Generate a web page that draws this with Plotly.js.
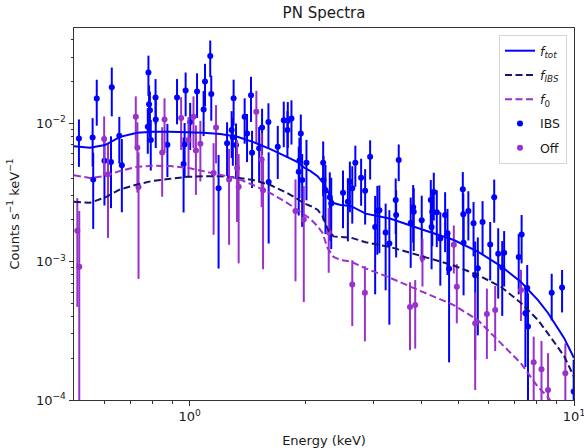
<!DOCTYPE html>
<html><head><meta charset="utf-8">
<script src="https://cdn.plot.ly/plotly-3.0.1.min.js"></script>
<style>html,body{margin:0;padding:0;background:#fff}#chart{width:584px;height:448px}</style>
</head><body><div id="chart"></div>
<script>
// IBS spectrum data points (energy keV, counts s^-1 keV^-1, 1-sigma error)
const ibsE = [0.515,0.559,0.561,0.573,0.600,0.624,0.627,0.656,0.666,0.778,0.781,0.784,0.788,0.792,0.815,0.816,0.875,0.927,0.964,0.970,0.976,1.003,1.045,1.087,1.096,1.131,1.138,1.189,1.251,1.286,1.295,1.301,1.32,1.39,1.41,1.444,1.453,1.516,1.543,1.603,1.605,1.695,1.757,1.796,1.80,1.84,1.922,1.93,1.946,1.962,2.013,2.225,2.23,2.256,2.315,2.335,2.506,2.58,2.611,2.649,2.698,2.793,2.861,2.948,3.038,3.078,3.116,3.235,3.308,3.436,3.445,3.499,3.759,3.815,3.828,4.016,4.24,4.26,4.278,4.317,4.395,4.489,4.62,4.686,4.731,5.137,5.152,5.16,5.31,5.478,5.532,5.62,5.782,6.053,6.20,6.35,6.505,6.58,7.18,7.306,7.474,7.555,7.59,8.75,9.31,9.98];
const ibsY = [0.00773,0.00786,0.00392,0.01508,0.00534,0.00523,0.01819,0.0081,0.00497,0.0094,0.0232,0.0137,0.0124,0.00754,0.0153,0.0106,0.00697,0.0153,0.00506,0.00702,0.0172,0.0102,0.0169,0.01256,0.02,0.0305,0.0162,0.00339,0.00714,0.0089,0.00792,0.0151,0.00694,0.0111,0.00843,0.0159,0.0061,0.00657,0.00931,0.0102,0.00375,0.00675,0.0105,0.0089,0.0104,0.0108,0.00445,0.00536,0.00843,0.00388,0.00517,0.00517,0.00388,0.00328,0.00291,0.00263,0.00314,0.0027,0.00377,0.00338,0.00517,0.00403,0.00325,0.00571,0.00178,0.00232,0.00235,0.00162,0.00135,0.00278,0.00217,0.00541,0.0019,0.00247,0.00229,0.00199,0.00278,0.00178,0.00229,0.00318,0.00227,0.00147,0.00217,0.0016,0.000887,0.00333,0.0022,0.00137,0.00232,0.00189,0.000795,0.000893,0.00193,0.00133,0.00291,0.00114,0.000905,0.00116,0.00108,0.00157,0.000423,0.000644,0.00034,0.000596,0.000649,0.000115];
const ibsErr = [0.0029,0.003,0.0022,0.0055,0.0028,0.0028,0.007,0.003,0.0027,0.0034,0.0075,0.005,0.0045,0.003,0.0055,0.004,0.0029,0.0055,0.0028,0.003,0.006,0.0038,0.006,0.0045,0.0068,0.009,0.0058,0.0025,0.003,0.0033,0.003,0.0055,0.003,0.004,0.0032,0.0057,0.0027,0.0028,0.0034,0.0037,0.0024,0.0028,0.0038,0.0033,0.0038,0.0038,0.0023,0.0025,0.0031,0.0021,0.0024,0.0022,0.0019,0.0017,0.0015,0.0014,0.0014,0.0013,0.0015,0.0015,0.0017,0.0015,0.0014,0.0018,0.0012,0.0012,0.0012,0.001,0.001,0.0012,0.0011,0.0016,0.001,0.0011,0.0011,0.001,0.0011,0.0009,0.001,0.0012,0.001,0.0008,0.001,0.0008,0.0007,0.0011,0.0009,0.0008,0.0009,0.0008,0.0006,0.0006,0.0008,0.0006,0.001,0.0006,0.0005,0.0005,0.0005,0.0006,0.00025,0.0003,0.00025,0.00022,0.00022,0.00008];

// Off-source spectrum data points
const offE = [0.510,0.516,0.599,0.613,0.724,0.731,0.736,0.848,0.86,0.95,0.993,1.023,1.038,1.066,1.154,1.171,1.266,1.328,1.341,1.491,1.539,1.552,1.885,1.981,2.30,2.649,2.857,3.743,3.862,4.034,4.867,4.955,5.532,5.934,6.236,7.278,7.854,8.23,8.56,9.495];
const offY = [0.00167,0.000917,0.00767,0.00428,0.0111,0.00665,0.00345,0.00614,0.0106,0.0109,0.00754,0.0111,0.00633,0.00709,0.00436,0.00931,0.00392,0.00473,0.00347,0.0121,0.00547,0.00328,0.00232,0.00201,0.00163,0.000682,0.000595,0.000469,0.000485,0.00106,0.00132,0.000658,0.000358,0.000418,0.000446,0.000622,0.000187,0.000167,0.000118,0.000156];
const offErr = [0.0012,0.0014,0.0035,0.0028,0.0045,0.0035,0.0027,0.0032,0.0045,0.0045,0.0035,0.0045,0.0033,0.0033,0.0028,0.0042,0.0026,0.0028,0.0025,0.005,0.003,0.0024,0.0016,0.0015,0.0008,0.00034,0.00033,0.00024,0.00025,0.0004,0.0005,0.0003,0.00024,0.00022,0.00022,0.00025,0.0001,0.0001,0.0001,0.0001];

// Model curves
const modelE = [0.5,0.55,0.602,0.659,0.730,0.803,0.890,0.986,1.085,1.201,1.331,1.465,1.622,1.796,1.908,1.978,2.063,2.151,2.217,2.284,2.368,2.470,2.623,2.870,3.334,3.992,4.867,5.620,6.452,7.278,8.059,8.558,9.421,10];
const totY = [0.00682,0.00663,0.00694,0.00796,0.00851,0.00865,0.00865,0.00861,0.00851,0.00833,0.00796,0.00729,0.00649,0.00568,0.00523,0.00481,0.0045,0.00414,0.00375,0.00323,0.002645,0.00256,0.00252,0.00222,0.00204,0.00172,0.00143,0.00118,0.000928,0.000711,0.000527,0.000425,0.000281,0.000201];
const ibsModelY = [0.0027,0.00266,0.0029,0.00332,0.00361,0.00383,0.00396,0.00409,0.00414,0.00414,0.00404,0.00388,0.00357,0.00312,0.00283,0.002645,0.00252,0.00237,0.00213,0.00172,0.00152,0.0015,0.00149,0.00138,0.00127,0.0011,0.000936,0.0008,0.000658,0.000502,0.000378,0.000302,0.000208,0.000147];
const f0Y = [0.00421,0.00401,0.00414,0.00452,0.00484,0.00492,0.00489,0.00476,0.0045,0.00421,0.00398,0.00357,0.00312,0.002645,0.00235,0.0022,0.00203,0.0018,0.00161,0.00125,0.00108,0.001025,0.001,0.000893,0.00076,0.000612,0.000485,0.000378,0.000258,0.000184,0.000124,0.000105,0.00007,0.00005];

const xTickVals = [1, 10];
const xTickText = ['10<sup>0</sup>', '10<sup>1</sup>'];
const yTickVals = [1e-4, 1e-3, 1e-2];
const yTickText = ['10<sup>\u22124</sup>', '10<sup>\u22123</sup>', '10<sup>\u22122</sup>'];
const xMinor = [0.6,0.7,0.8,0.9,2,3,4,5,6,7,8,9];
const yMinor = [2e-4,3e-4,4e-4,5e-4,6e-4,7e-4,8e-4,9e-4,2e-3,3e-3,4e-3,5e-3,6e-3,7e-3,8e-3,9e-3,2e-2,3e-2,4e-2];

const BLUE = '#0000ff', PURPLE = '#9932cc', NAVY = '#14146e';

const traces = [
  {x: ibsE, y: ibsY, mode: 'markers', name: 'IBS', legendgroup: 'g4', legendrank: 4,
   marker: {color: BLUE, size: 6},
   error_y: {type: 'data', array: ibsErr, visible: true, color: BLUE, thickness: 2, width: 0}},
  {x: offE, y: offY, mode: 'markers', name: 'Off', legendgroup: 'g5', legendrank: 5,
   marker: {color: PURPLE, size: 6},
   error_y: {type: 'data', array: offErr, visible: true, color: PURPLE, thickness: 2, width: 0}},
  {x: modelE, y: totY, mode: 'lines', name: '<i>f</i><sub><i>tot</i></sub>', legendgroup: 'g1', legendrank: 1,
   line: {color: BLUE, width: 2}},
  {x: modelE, y: ibsModelY, mode: 'lines', name: '<i>f</i><sub><i>IBS</i></sub>', legendgroup: 'g2', legendrank: 2,
   line: {color: NAVY, width: 2, dash: '7px,3.5px'}},
  {x: modelE, y: f0Y, mode: 'lines', name: '<i>f</i><sub>0</sub>', legendgroup: 'g3', legendrank: 3,
   line: {color: PURPLE, width: 2, dash: '7px,3.5px'}}
];

const axisCommon = {
  type: 'log', showgrid: false, zeroline: false, showline: true, mirror: true,
  linecolor: '#333', linewidth: 1, ticks: 'outside', ticklen: 4.5, tickwidth: 1, tickcolor: '#333',
  tickmode: 'array', tickfont: {size: 13, color: '#1a1a1a'}, ticklabeloverflow: 'allow'
};

const layout = {
  width: 584, height: 448,
  margin: {l: 74, r: 10, t: 28, b: 48, pad: 0},
  paper_bgcolor: '#ffffff', plot_bgcolor: '#ffffff',
  font: {family: 'DejaVu Sans, sans-serif', size: 12, color: '#1a1a1a'},
  title: {text: 'PN Spectra', x: 0.5, xref: 'paper', xanchor: 'center',
          y: 1 - 13/448, yref: 'container', yanchor: 'middle', font: {size: 15, color: '#1a1a1a'}},
  xaxis: Object.assign({}, axisCommon, {
    range: [Math.log10(0.5), 1], tickvals: xTickVals, ticktext: xTickText,
    minor: {tickmode: 'array', tickvals: xMinor, ticks: 'outside', ticklen: 2.5, tickwidth: 1, tickcolor: '#333', showgrid: false},
    title: {text: 'Energy (keV)', standoff: 12, font: {size: 13}}
  }),
  yaxis: Object.assign({}, axisCommon, {
    range: [-4, -1.313], tickvals: yTickVals, ticktext: yTickText,
    minor: {tickmode: 'array', tickvals: yMinor, ticks: 'outside', ticklen: 2.5, tickwidth: 1, tickcolor: '#333', showgrid: false},
    title: {text: 'Counts s<sup>\u22121</sup> keV<sup>\u22121</sup>', standoff: 13, font: {size: 13}}
  }),
  showlegend: true,
  legend: {x: 0.986, xanchor: 'right', y: 0.981, yanchor: 'top',
           bgcolor: 'rgba(255,255,255,0.85)', bordercolor: '#d6d6d6', borderwidth: 1,
           font: {size: 12.5, color: '#1a1a1a'}, tracegroupgap: 5}
};

Plotly.newPlot('chart', traces, layout, {displayModeBar: false, staticPlot: true});
</script>
</body></html>
